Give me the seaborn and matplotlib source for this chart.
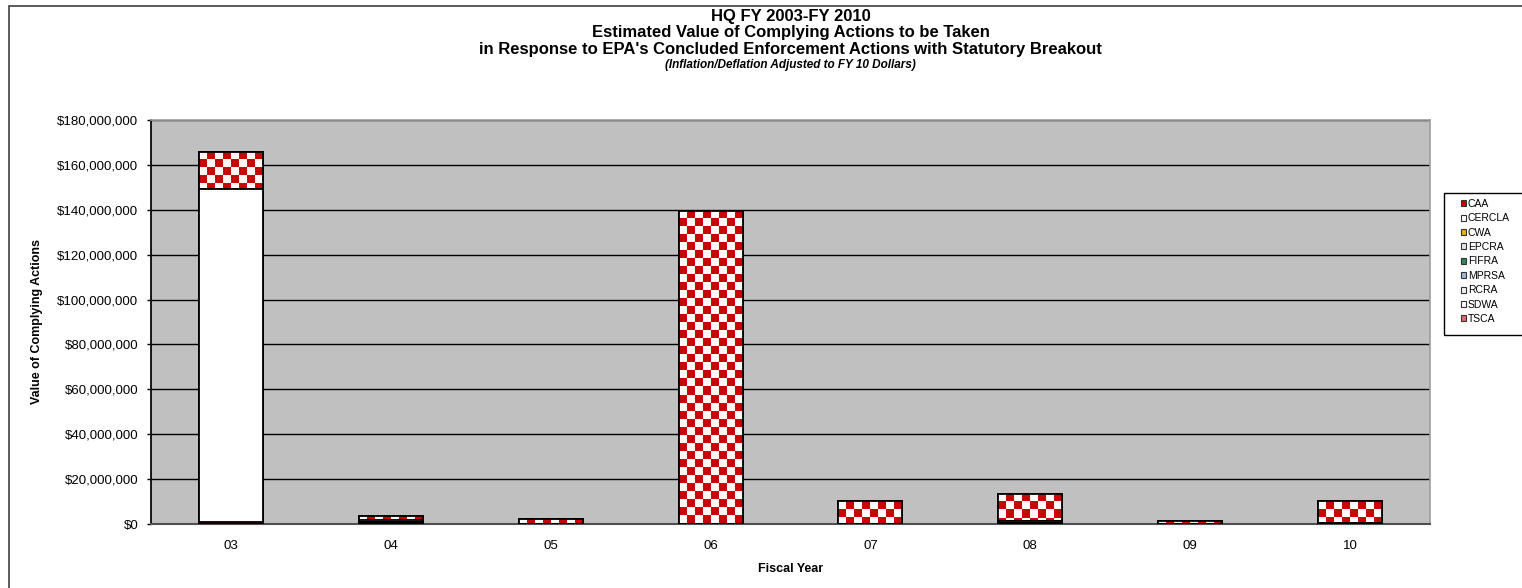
import numpy as np
import pandas as pd
import matplotlib
matplotlib.use("Agg")
import matplotlib.pyplot as plt
import seaborn as sns
from matplotlib.colors import ListedColormap
from matplotlib.patches import Patch, Rectangle

# Datos (millones de dólares)
years = ["03", "04", "05", "06", "07", "08", "09", "10"]
statutes = ["CAA", "CERCLA", "CWA", "EPCRA", "FIFRA", "MPRSA", "RCRA", "SDWA", "TSCA"]
caa = [0.8, 0.3, 0.2, 0.0, 0.0, 0.3, 0.0, 0.5]
cercla = [148.5, 0.0, 0.0, 0.0, 0.0, 0.0, 0.0, 0.0]
cwa = [0.0, 0.0, 0.0, 0.0, 0.0, 1.0, 0.0, 0.0]
epcra = [0.0, 0.0, 0.0, 0.0, 0.0, 0.0, 0.0, 0.0]
fifra = [0.0, 0.0, 0.0, 0.0, 0.0, 0.0, 0.0, 0.0]
mprsa = [0.0, 0.8, 0.0, 0.0, 0.0, 0.0, 0.0, 0.0]
rcra = [0.0, 0.0, 0.0, 0.0, 0.0, 0.0, 0.0, 0.0]
sdwa = [0.0, 0.9, 0.0, 0.0, 0.0, 0.0, 0.0, 0.0]
tsca = [16.5, 1.7, 1.9, 139.5, 10.1, 12.1, 1.5, 9.7]

colors = {"CAA": "#C00000", "CERCLA": "#FFFFFF", "CWA": "#E8B000", "EPCRA": "#E6E6E6",
          "FIFRA": "#2E8B57", "MPRSA": "#9DB4E0", "RCRA": "#F2F2F2", "SDWA": "#FFFFFF",
          "TSCA": "#CC0000"}

df = pd.DataFrame({"year": years, "CAA": caa, "CERCLA": cercla, "CWA": cwa, "EPCRA": epcra,
                   "FIFRA": fifra, "MPRSA": mprsa, "RCRA": rcra, "SDWA": sdwa, "TSCA": tsca})
for s in statutes:
    df[s] = df[s] * 1e6
cum = df[statutes].cumsum(axis=1)
cum["year"] = df["year"]

sns.set_theme(style="white")
plt.rcParams["font.family"] = ["Liberation Sans", "DejaVu Sans"]
plt.rcParams.update({"text.color": "black", "axes.labelcolor": "black",
                     "xtick.color": "black", "ytick.color": "black"})

fig = plt.figure(figsize=(15.22, 5.88), dpi=100)
ax = fig.add_axes([151 / 1522, 1 - 524 / 588, (1430 - 151) / 1522, (524 - 120) / 588])
ax.set_facecolor("#C0C0C0")

# Barras apiladas: se dibuja la suma acumulada de arriba hacia abajo
for i, s in enumerate(reversed(statutes)):
    n_before = len(ax.patches)
    sns.barplot(data=cum, x="year", y=s, color=colors[s], width=0.4, edgecolor="black",
                linewidth=1.3, saturation=1, ax=ax, zorder=3 + i * 0.1 if s != "TSCA" else 2)
    if s == "TSCA":
        tsca_bars = ax.patches[n_before:]

ax.set_xlim(-0.5, 7.5)
ax.set_ylim(0, 180e6)

# Relleno a cuadros para TSCA
fig.canvas.draw()
ax_h_px = ax.get_window_extent().height
dy = 8 * 180e6 / ax_h_px
checker_cmap = ListedColormap(["white", "#CC0000"])
for p in tsca_bars:
    h = p.get_height()
    if h <= 0:
        continue
    x0 = p.get_x()
    w = p.get_width()
    nrows = int(np.ceil(h / dy))
    ncols = 8
    grid = (np.add.outer(np.arange(nrows), np.arange(ncols)) % 2).astype(float)
    top = nrows * dy
    im = ax.imshow(grid, cmap=checker_cmap, aspect="auto", interpolation="nearest",
                   extent=(x0, x0 + w, h - top, h), zorder=2.5, origin="upper")
    im.set_clip_path(p)
    ax.add_patch(Rectangle((x0, 0), w, h, fill=False, edgecolor="black", linewidth=1.3, zorder=2.6))

ax.set_xlim(-0.5, 7.5)
ax.set_ylim(0, 180e6)

ax.set_yticks(np.arange(0, 180e6 + 1, 20e6))
ax.set_yticklabels([f"${int(v):,}" for v in np.arange(0, 180e6 + 1, 20e6)], fontsize=9.5)
ax.set_xticks(range(len(years)))
ax.set_xticklabels(years, fontsize=9.5)
ax.yaxis.grid(True, color="black", linewidth=1.0)
ax.set_axisbelow(True)
ax.tick_params(axis="y", which="both", left=True, length=3, width=1, pad=6)
ax.tick_params(axis="x", length=0, pad=11.5)
for side in ["top", "right"]:
    ax.spines[side].set_color("#A0A0A0")
ax.spines["left"].set_color("black")
ax.spines["bottom"].set_color("#505050")
ax.spines["bottom"].set_linewidth(1.5)

ax.set_xlabel("Fiscal Year", fontsize=9, fontweight="bold", labelpad=8)
ax.set_ylabel("Value of Complying Actions", fontsize=9, fontweight="bold", labelpad=10)

cx = (151 + 1430) / 2 / 1522
fig.text(cx, 1 - 16 / 588, "HQ FY 2003-FY 2010", ha="center", va="center", fontsize=12, fontweight="bold")
fig.text(cx, 1 - 33 / 588, "Estimated Value of Complying Actions to be Taken", ha="center", va="center",
         fontsize=12, fontweight="bold")
fig.text(cx, 1 - 49.5 / 588, "in Response to EPA's Concluded Enforcement Actions with Statutory Breakout",
         ha="center", va="center", fontsize=12, fontweight="bold")
fig.text(cx, 1 - 65 / 588, "(Inflation/Deflation Adjusted to FY 10 Dollars)", ha="center", va="center",
         fontsize=8.5, fontweight="bold", style="italic")

# Leyenda
handles = []
for s in statutes:
    if s == "TSCA":
        handles.append(Patch(facecolor="#E46A6A", edgecolor="#333333", linewidth=0.8, label=s))
    else:
        handles.append(Patch(facecolor=colors[s], edgecolor="#333333", linewidth=0.8, label=s))
leg = fig.legend(handles=handles, loc="upper left", bbox_to_anchor=(1461 / 1522, 1 - 199 / 588),
                 fontsize=7.5, frameon=False, handlelength=0.5, handleheight=0.5, handletextpad=0.15,
                 labelspacing=0.42, borderpad=0, borderaxespad=0)
fig.patches.append(Rectangle((1444 / 1522, 1 - 335 / 588), 0.1, 142 / 588, transform=fig.transFigure,
                             fill=False, edgecolor="black", linewidth=1.0))

# Marco exterior
fig.patches.append(Rectangle((9 / 1522, -0.1), 1.2, 1 - 6 / 588 + 0.1, transform=fig.transFigure,
                             fill=False, edgecolor="#404040", linewidth=1.2))

fig.savefig("out.png", dpi=100)
